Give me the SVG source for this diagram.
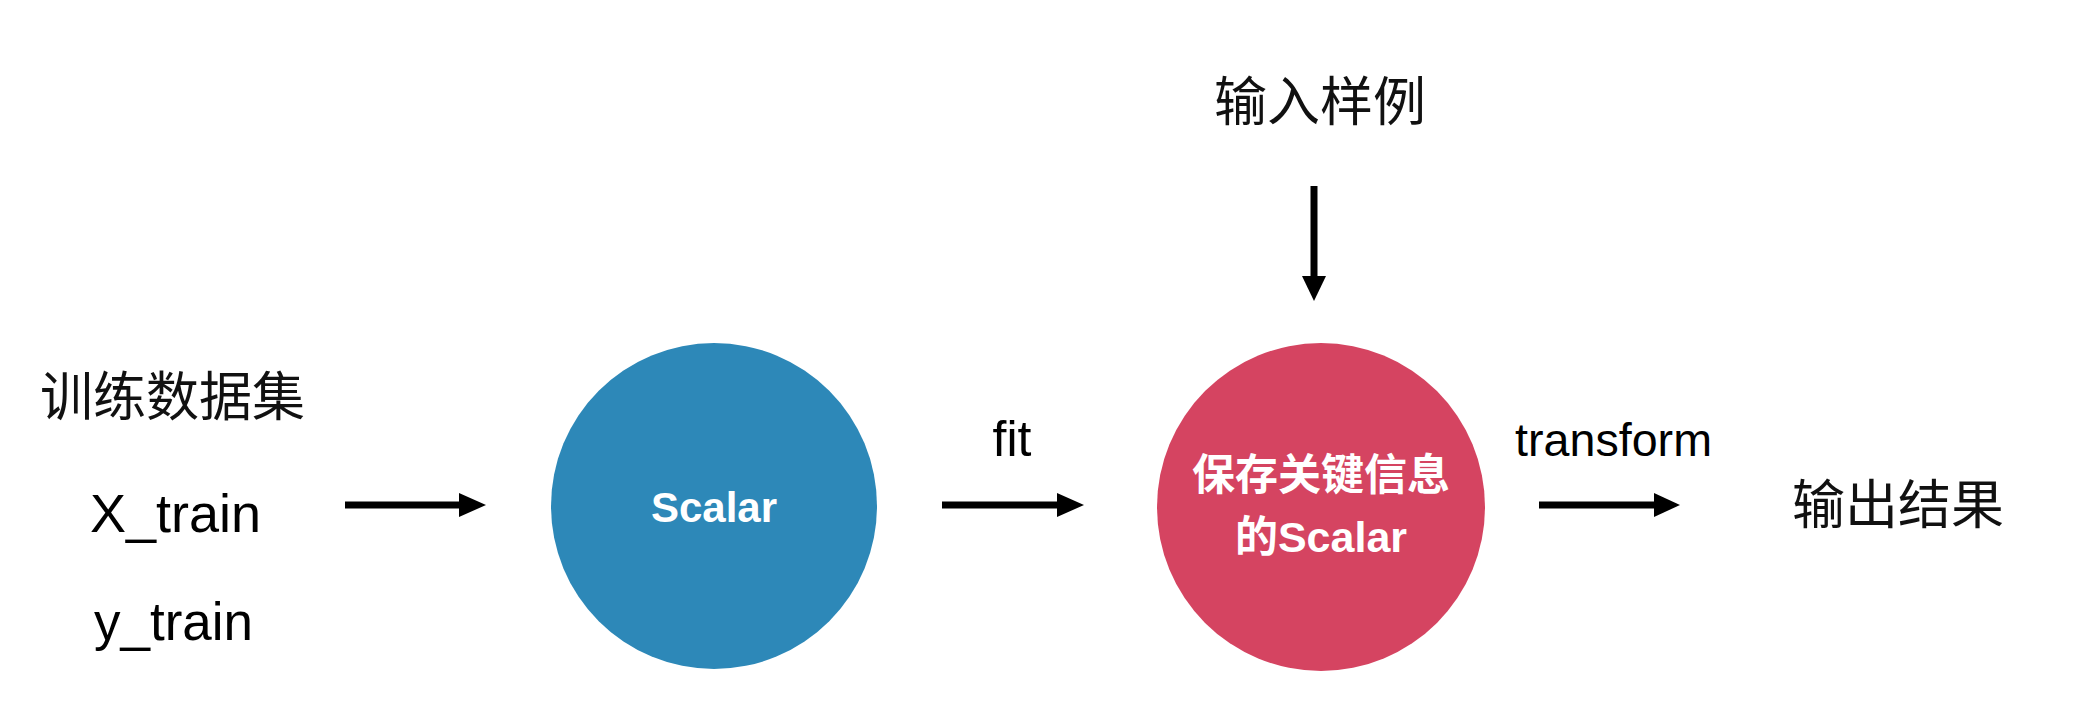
<svg xmlns="http://www.w3.org/2000/svg" width="2082" height="718" viewBox="0 0 2082 718">
<defs>
<style>
.lbl{font-family:"Liberation Sans","Noto Sans CJK SC",Arial,sans-serif;fill:#000;}
.cjk{font-family:"Noto Sans CJK SC","Liberation Sans",sans-serif;fill:#111;font-weight:400;}
.in{font-family:"Liberation Sans","Noto Sans CJK SC",Arial,sans-serif;fill:#fff;font-weight:bold;text-anchor:middle;}
.conn{stroke:#000;stroke-width:7;fill:none;}
.head{fill:#000;}
</style>
</defs>
<rect width="2082" height="718" fill="#fff"/>
<g id="train-data">
<text class="cjk" x="40" y="416" font-size="53">训练数据集</text>
<text class="lbl" x="90" y="532" font-size="54">X_train</text>
<text class="lbl" x="94" y="640" font-size="53">y_train</text>
</g>
<g id="scalar">
<circle cx="714" cy="506" r="163" fill="#2d88b8"/>
<text class="in" x="714" y="522" font-size="42">Scalar</text>
</g>
<g id="input-sample">
<text class="cjk" x="1320" y="121" font-size="53" text-anchor="middle">输入样例</text>
</g>
<g id="fitted-scalar">
<circle cx="1321" cy="507" r="164" fill="#d54461"/>
<text class="in" x="1321" y="490" font-size="43" font-family="Noto Sans CJK SC, sans-serif">保存关键信息</text>
<text class="in" x="1321" y="552" font-size="43"><tspan font-family="Noto Sans CJK SC, sans-serif">的</tspan>Scalar</text>
</g>
<g id="output">
<text class="cjk" x="1792" y="524" font-size="53">输出结果</text>
</g>
<g id="connectors">
<line class="conn" x1="345" y1="505" x2="462" y2="505"/>
<path class="head" d="M459,493 L486,505 L459,517 Z"/>
<line class="conn" x1="942" y1="505" x2="1060" y2="505"/>
<path class="head" d="M1057,493 L1084,505 L1057,517 Z"/>
<text class="lbl" x="1012" y="456" font-size="50" text-anchor="middle">fit</text>
<line class="conn" x1="1314" y1="186" x2="1314" y2="279"/>
<path class="head" d="M1302,276 L1314,301 L1326,276 Z"/>
<line class="conn" x1="1539" y1="505" x2="1657" y2="505"/>
<path class="head" d="M1654,493 L1680,505 L1654,517 Z"/>
<text class="lbl" x="1515" y="456" font-size="46" textLength="197" lengthAdjust="spacingAndGlyphs">transform</text>
</g>
</svg>
